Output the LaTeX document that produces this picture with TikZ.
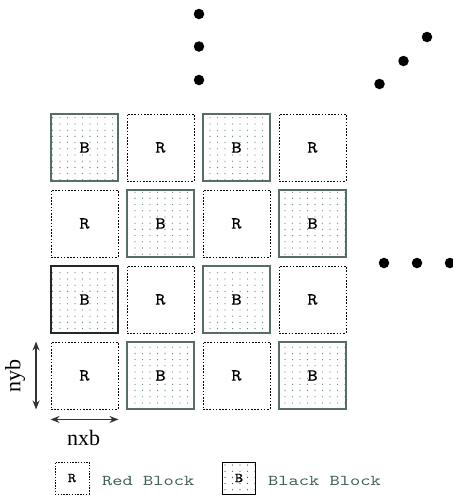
\documentclass[tikz,border=0pt]{standalone}
\usepackage{fontspec}
\setmainfont{Liberation Serif}
\newfontfamily\cour{lmmono10-regular.otf}[FakeStretch=1.3]
\newfontfamily\courblk{lmmono10-regular.otf}[FakeStretch=1.15,FakeBold=0.6]
\usetikzlibrary{patterns,arrows.meta}
\pgfdeclarepatternformonly{bdots}{\pgfqpoint{-1pt}{-1pt}}{\pgfqpoint{1pt}{1pt}}{\pgfqpoint{7.5pt}{6.2pt}}{\pgfpathcircle{\pgfqpoint{0pt}{0pt}}{0.65pt}\pgfusepath{fill}}
\definecolor{bborder}{HTML}{566E66}
\definecolor{legtext}{HTML}{3F5F55}
\definecolor{dotcol}{HTML}{6F8A82}
\tikzset{
  rblk/.style={draw=black, line width=0.9pt, dash pattern=on 1.6pt off 1.6pt, minimum width=67pt, minimum height=67pt, inner sep=0pt, font=\courblk\fontsize{17}{17}\selectfont},
  bblk/.style={draw=bborder, line width=1.1pt, pattern=bdots, pattern color=dotcol, minimum width=67pt, minimum height=67pt, inner sep=0pt, font=\courblk\fontsize{17}{17}\selectfont},
  bigdot/.style={circle, fill=black, inner sep=0pt, minimum size=10.5pt},
  dimarrow/.style={{Stealth[length=9pt,width=7pt]}-{Stealth[length=9pt,width=7pt]}, line width=1.3pt, draw=black!80},
  legtxt/.style={font=\cour\fontsize{15}{15}\selectfont, text=legtext, anchor=west, inner sep=0pt},
  lrblk/.style={draw=black, line width=0.8pt, dash pattern=on 1.4pt off 1.4pt, minimum width=34pt, minimum height=32pt, inner sep=0pt, font=\courblk\fontsize{13.5}{13.5}\selectfont},
  lbblk/.style={draw=black, line width=0.8pt, pattern=bdots, pattern color=black!70, minimum width=33pt, minimum height=32pt, inner sep=0pt, font=\courblk\fontsize{13.5}{13.5}\selectfont},
  dimlabel/.style={font=\fontsize{22}{22}\selectfont, inner sep=0pt},
}
\begin{document}
\begin{tikzpicture}[x=1pt,y=-1pt]
\useasboundingbox (0,0) rectangle (453,496);
% row 1
\node[bblk] (b11) at (84.5,147.5) {B};
\node[rblk] (b12) at (160.5,147.5) {R};
\node[bblk] (b13) at (236.5,147.5) {B};
\node[rblk] (b14) at (312.5,147.5) {R};
% row 2
\node[rblk] (b21) at (84.5,223.5) {R};
\node[bblk] (b22) at (160.5,223.5) {B};
\node[rblk] (b23) at (236.5,223.5) {R};
\node[bblk] (b24) at (312.5,223.5) {B};
% row 3
\node[bblk, draw=black!85] (b31) at (84.5,299.5) {B};
\node[rblk] (b32) at (160.5,299.5) {R};
\node[bblk] (b33) at (236.5,299.5) {B};
\node[rblk] (b34) at (312.5,299.5) {R};
% row 4
\node[rblk] (b41) at (84.5,375.5) {R};
\node[bblk] (b42) at (160.5,375.5) {B};
\node[rblk] (b43) at (236.5,375.5) {R};
\node[bblk] (b44) at (312.5,375.5) {B};
% dimension arrows
\coordinate (vy1) at ([xshift=-14.5pt]b41.north west);
\coordinate (vy2) at ([xshift=-14.5pt]b41.south west);
\draw[dimarrow] (vy1) -- (vy2);
\node[dimlabel, rotate=90] (nyb) at (15,376) {nyb};
\coordinate (hx1) at ([yshift=-10pt]b41.south west);
\coordinate (hx2) at ([yshift=-10pt]b41.south east);
\draw[dimarrow] (hx1) -- (hx2);
\node[dimlabel] (nxb) at (83.5,438) {nxb};
% ellipsis dots
\node[bigdot] (dv1) at (199,14) {};
\node[bigdot] (dv2) at (199,46.5) {};
\node[bigdot] (dv3) at (199,80) {};
\node[bigdot] (dd1) at (379.5,84) {};
\node[bigdot] (dd2) at (403.5,61) {};
\node[bigdot] (dd3) at (427,37) {};
\node[bigdot] (dh1) at (384,263) {};
\node[bigdot] (dh2) at (417,263) {};
\node[bigdot] (dh3) at (450,263) {};
% legend
\node[lrblk] (lr) at (72,478) {R};
\node[legtxt] (lrt) at (102,481) {Red Block};
\node[lbblk] (lb) at (239,478) {B};
\node[legtxt] (lbt) at (268,481) {Black Block};
\end{tikzpicture}
\end{document}
